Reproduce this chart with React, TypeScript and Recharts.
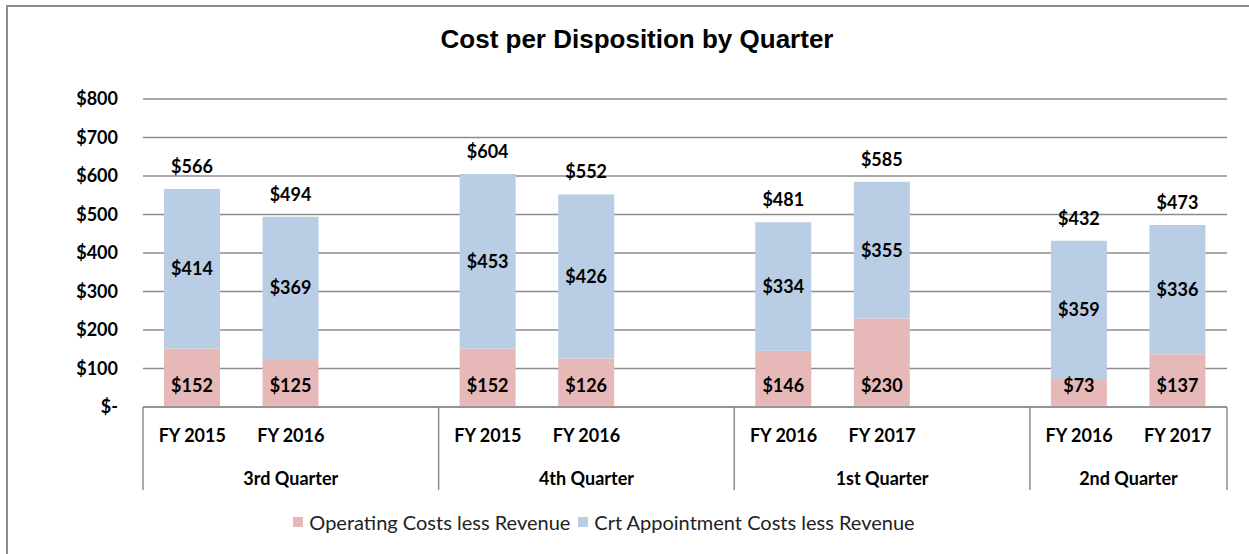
import React from 'react';
import {
  BarChart,
  Bar,
  XAxis,
  YAxis,
  CartesianGrid,
  Legend,
  LabelList,
} from 'recharts';

// categories (blank slots keep the gaps between quarters)
const fiscalYears = [
  'FY 2015', 'FY 2016', '',
  'FY 2015', 'FY 2016', '',
  'FY 2016', 'FY 2017', '',
  'FY 2016', 'FY 2017',
];
const quarterOf = [
  '3rd Quarter', '3rd Quarter', '3rd Quarter',
  '4th Quarter', '4th Quarter', '4th Quarter',
  '1st Quarter', '1st Quarter', '1st Quarter',
  '2nd Quarter', '2nd Quarter',
];
const operating = [152, 125, null, 152, 126, null, 146, 230, null, 73, 137];
const appointment = [414, 369, null, 453, 426, null, 334, 355, null, 359, 336];
const totals = [566, 494, null, 604, 552, null, 481, 585, null, 432, 473];
const yTicks = [0, 100, 200, 300, 400, 500, 600, 700, 800];

const seriesNames = ['Operating Costs less Revenue', 'Crt Appointment Costs less Revenue'];
const PINK = '#E6B9B8';
const BLUE = '#B9CDE5';
const GRID = '#8c8c8c';
const FONT = 'Lato, "Noto Sans", sans-serif';

const data = fiscalYears.map((fy, i) => ({
  fy,
  quarter: quarterOf[i],
  operating: operating[i],
  appointment: appointment[i],
  total: totals[i],
}));

const money = (v: any) => (v == null || v === '' ? '' : `$${v}`);

const isGroupStart = (i: number) => i === 0 || quarterOf[i] !== quarterOf[i - 1];
const groupSize = (i: number) => quarterOf.filter((q) => q === quarterOf[i]).length;

const CategoryTick = (props: any) => {
  const { x, y, payload } = props;
  const index = payload?.index ?? props.index ?? 0;
  const off = payload?.offset || 49;
  const label = fiscalYears[index];
  const lineBottom = y + 83;
  return (
    <g>
      {label && (
        <text x={x} y={y + 30} textAnchor="middle" dominantBaseline="middle"
          fontFamily={FONT} fontSize={18} fontWeight="bold" fill="#000">
          {label}
        </text>
      )}
      {isGroupStart(index) && (
        <>
          <line x1={x - off} x2={x - off} y1={y} y2={lineBottom} stroke={GRID} strokeWidth={1.5} />
          <text x={x - off + groupSize(index) * off} y={y + 73} textAnchor="middle" dominantBaseline="middle"
            fontFamily={FONT} fontSize={18} fontWeight="bold" fill="#000">
            {quarterOf[index]}
          </text>
        </>
      )}
      {index === fiscalYears.length - 1 && (
        <line x1={x + off} x2={x + off} y1={y} y2={lineBottom} stroke={GRID} strokeWidth={1.5} />
      )}
    </g>
  );
};

const LegendContent = () => (
  <div style={{ display: 'flex', justifyContent: 'center', fontFamily: FONT, fontSize: 20, color: '#222' }}>
    {[PINK, BLUE].map((c, i) => (
      <span key={i} style={{ display: 'flex', alignItems: 'center', marginRight: 8 }}>
        <span style={{ width: 10, height: 10, background: c, display: 'inline-block', marginRight: 6 }} />
        {seriesNames[i]}
      </span>
    ))}
  </div>
);

const App = () => {
  return (
    <div style={{ position: 'absolute', left: 0, top: 0, width: 1249, height: 554, background: '#fff', overflow: 'hidden' }}>
      <div style={{ position: 'absolute', left: 6, top: 5, width: 1300, height: 600, borderLeft: `2px solid ${GRID}`, borderTop: `2px solid ${GRID}` }} />
      <div style={{ position: 'absolute', left: 0, top: 24, width: 1274, textAlign: 'center', fontFamily: '"Liberation Sans", Arial, sans-serif', fontSize: 26, fontWeight: 'bold', color: '#000' }}>
        Cost per Disposition by Quarter
      </div>
      <div style={{ position: 'absolute', left: 0, top: 0 }}>
        <BarChart width={1249} height={554} data={data} margin={{ top: 99, right: 22, bottom: 57, left: 0 }}>
          <CartesianGrid vertical={false} stroke={GRID} strokeWidth={1.5} />
          <XAxis dataKey="fy" interval={0} height={90} tickLine={false} tickSize={0} tickMargin={0}
            axisLine={{ stroke: GRID, strokeWidth: 1.5 }} tick={<CategoryTick />} />
          <YAxis width={143} domain={[0, 800]} ticks={yTicks} axisLine={false} tickLine={false}
            tickSize={0} tickMargin={25} tickFormatter={(v: number) => (v === 0 ? '$-' : `$${v}`)}
            tick={{ fontFamily: FONT, fontSize: 18, fontWeight: 'bold', fill: '#000' }} />
          <Legend verticalAlign="middle" align="center" layout="horizontal" content={<LegendContent />}
            wrapperStyle={{ top: 510, left: 0, width: 1216 }} />
          <Bar dataKey="operating" name={seriesNames[0]} stackId="a" fill={PINK} barSize={56} isAnimationActive={false}>
            <LabelList dataKey="operating" position="insideBottom" offset={15} formatter={money}
              fontFamily={FONT} fontSize={18} fontWeight="bold" fill="#000" />
          </Bar>
          <Bar dataKey="appointment" name={seriesNames[1]} stackId="a" fill={BLUE} barSize={56} isAnimationActive={false}>
            <LabelList dataKey="appointment" position="center" formatter={money}
              fontFamily={FONT} fontSize={18} fontWeight="bold" fill="#000" />
            <LabelList dataKey="total" position="top" offset={16} formatter={money}
              fontFamily={FONT} fontSize={18} fontWeight="bold" fill="#000" />
          </Bar>
        </BarChart>
      </div>
    </div>
  );
};

export default App;
